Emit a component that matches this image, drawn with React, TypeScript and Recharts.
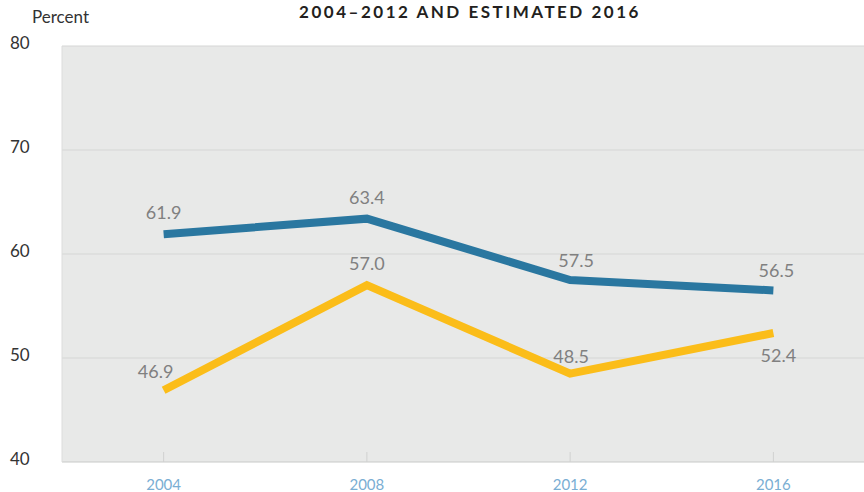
import { LineChart, Line, XAxis, YAxis, CartesianGrid, LabelList } from "recharts";

const years = [2004, 2008, 2012, 2016];
const blueValues = [61.9, 63.4, 57.5, 56.5];
const yellowValues = [46.9, 57.0, 48.5, 52.4];
const yTicks = [40, 50, 60, 70, 80];

// label offsets per point [dx, dy] relative to the point
const blueOffsets = [[0, -22], [0, -22], [6, -20], [3, -20]];
const yellowOffsets = [[-8, -19], [0, -22], [1, -18], [5, 22]];

const data = years.map((year, i) => ({
  year,
  blue: blueValues[i],
  yellow: yellowValues[i],
}));

const FONT = "Lato, 'Open Sans', sans-serif";

const makeLabel = (offsets: number[][]) => (props: any) => {
  const { x, y, value, index } = props;
  const [dx, dy] = offsets[index] || [0, -20];
  return (
    <text
      x={x + dx}
      y={y + dy}
      textAnchor="middle"
      dominantBaseline="central"
      fill="#808080"
      fontSize={18}
      fontFamily={FONT}
    >
      {Number(value).toFixed(1)}
    </text>
  );
};

const XTick = (props: any) => {
  const { x, y, payload } = props;
  return (
    <g>
      <line x1={x} x2={x} y1={y - 10} y2={y} stroke="#d0d1d0" strokeWidth={1} />
      <text
        x={x}
        y={y + 22}
        textAnchor="middle"
        dominantBaseline="central"
        fill="#7aaed3"
        fontSize={15}
        fontFamily={FONT}
      >
        {payload.value}
      </text>
    </g>
  );
};

const YTick = (props: any) => {
  const { y, payload } = props;
  return (
    <text
      x={10}
      y={y - 4}
      textAnchor="start"
      dominantBaseline="central"
      fill="#333333"
      fontSize={17}
      fontFamily={FONT}
    >
      {payload.value}
    </text>
  );
};

export default function App() {
  return (
    <div
      style={{
        position: "absolute",
        left: 0,
        top: 0,
        width: 864,
        height: 492,
        overflow: "hidden",
        background: "#fff",
      }}
    >
      <svg
        width={864}
        height={40}
        style={{ position: "absolute", left: 0, top: 0, zIndex: 1 }}
      >
        <text
          x={470}
          y={18}
          textAnchor="middle"
          fill="#231f20"
          fontSize={17}
          fontWeight="bold"
          letterSpacing={2.5}
          fontFamily={FONT}
        >
          2004–2012 AND ESTIMATED 2016
        </text>
        <text x={32} y={23} fill="#333333" fontSize={17} fontFamily={FONT}>
          Percent
        </text>
      </svg>
      <LineChart
        width={880}
        height={492}
        data={data}
        margin={{ top: 46, right: 5, bottom: 0, left: 0 }}
      >
        <CartesianGrid
          vertical={false}
          fill="#e8e9e8"
          stroke="#d5d6d5"
          horizontalValues={[50, 60, 70, 80]}
        />
        <XAxis
          dataKey="year"
          type="number"
          domain={[2002, 2018]}
          ticks={years}
          height={30}
          tickSize={0}
          tickMargin={0}
          tickLine={false}
          axisLine={{ stroke: "#c8c9c8" }}
          tick={<XTick />}
        />
        <YAxis
          type="number"
          domain={[40, 80]}
          ticks={yTicks}
          width={62}
          tickLine={false}
          axisLine={{ stroke: "#dcdddc" }}
          tick={<YTick />}
        />
        <Line
          dataKey="blue"
          stroke="#2a77a0"
          strokeWidth={8}
          dot={false}
          activeDot={false}
          type="linear"
          isAnimationActive={false}
        >
          <LabelList dataKey="blue" content={makeLabel(blueOffsets)} />
        </Line>
        <Line
          dataKey="yellow"
          stroke="#fbbd19"
          strokeWidth={8}
          dot={false}
          activeDot={false}
          type="linear"
          isAnimationActive={false}
        >
          <LabelList dataKey="yellow" content={makeLabel(yellowOffsets)} />
        </Line>
      </LineChart>
    </div>
  );
}
